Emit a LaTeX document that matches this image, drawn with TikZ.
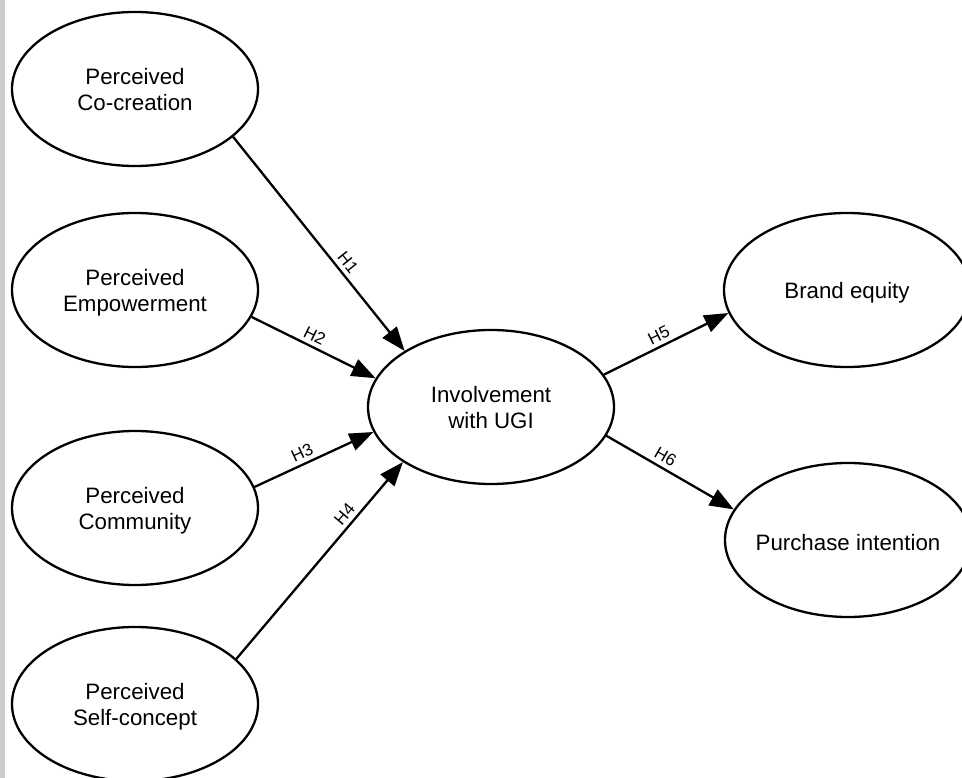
\documentclass[tikz,border=0pt]{standalone}
\usepackage{fontspec}
\setmainfont{Liberation Sans}
\usetikzlibrary{shapes.geometric,arrows.meta}
\newcommand\zwtext[1]{\makebox[0pt]{\begin{tabular}{@{}c@{}}#1\end{tabular}}}
\begin{document}
\begin{tikzpicture}[x=1pt,y=-1pt,
  latent/.style={ellipse,draw,line width=2.3pt,minimum width=246pt,minimum height=154pt,inner sep=0pt},
  ltext/.style={font=\fontsize{22.3}{26}\selectfont,yshift=-3pt,inner sep=0pt},
  hyp/.style={line width=2.3pt,-{Triangle[length=24pt,width=18pt]}},
  hlab/.style={sloped,above,font=\fontsize{17}{20}\selectfont,inner sep=4pt}]
\clip (0,0) rectangle (962,778);
\fill[white] (0,0) rectangle (962,778);
\fill[gray!40] (0,0) rectangle (5,778);
\node[latent,label={[ltext]center:\zwtext{Perceived\\Co-creation}}] (cc) at (135,89) {};
\node[latent,label={[ltext]center:\zwtext{Perceived\\Empowerment}}] (em) at (135,290) {};
\node[latent,label={[ltext]center:\zwtext{Perceived\\Community}}] (co) at (135,508) {};
\node[latent,label={[ltext]center:\zwtext{Perceived\\Self-concept}}] (sc) at (135,704) {};
\node[latent,label={[ltext]center:\zwtext{Involvement\\with UGI}}] (inv) at (491,407) {};
\node[latent,label={[ltext]center:Brand equity}] (be) at (847,290) {};
\node[latent,label={[ltext]center:Purchase intention}] (pi) at (848,540) {};
\draw[hyp] (cc.-26.8) -- node[hlab,pos=0.62]{H1} (inv.147.4);
\draw[hyp] (em.-13.5) -- node[hlab,pos=0.47]{H2} (inv.166.3);
\draw[hyp] (co.10.5) -- node[hlab,pos=0.44]{H3} (inv.-168.4);
\draw[hyp] (sc.24.9) -- node[hlab,pos=0.7]{H4} (inv.-148.6);
\draw[hyp] (inv.16.1) -- node[hlab,pos=0.48]{H5} (be.-169);
\draw[hyp] (inv.-14.3) -- node[hlab,pos=0.42]{H6} (pi.165.7);
\end{tikzpicture}
\end{document}
